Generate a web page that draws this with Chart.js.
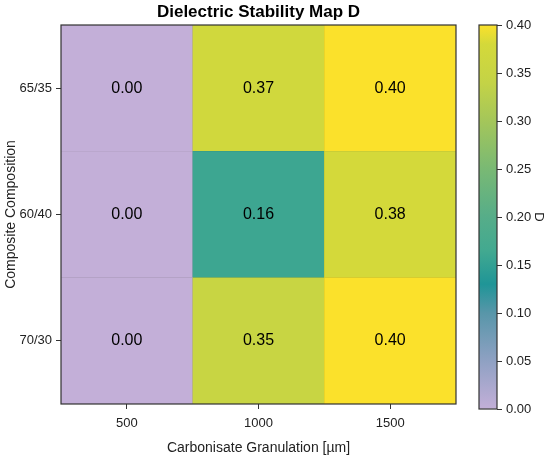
<!DOCTYPE html>
<html>
<head>
<meta charset="utf-8">
<script src="https://cdn.jsdelivr.net/npm/chart.js@4.4.1/dist/chart.umd.min.js"></script>
<style>
  html, body { margin: 0; padding: 0; background: #fff; }
  #wrap { position: relative; width: 550px; height: 457px; }
  #wrap canvas { position: absolute; top: 0; }
  #heat { left: 0; }
  #bar { left: 470px; }
</style>
</head>
<body>
<div id="wrap">
  <canvas id="heat" width="517" height="457"></canvas>
  <canvas id="bar" width="80" height="457"></canvas>
</div>
<script>
// Data, rows listed from bottom to top
const granulations = ["500", "1000", "1500"];
const compositions = ["70/30", "60/40", "65/35"];
const row7030 = [0.0, 0.35, 0.4];
const row6040 = [0.0, 0.16, 0.38];
const row6535 = [0.0, 0.37, 0.4];
const stability = [row7030, row6040, row6535];
const colorbarMin = 0;
const colorbarMax = 0.4;

// Colour map (value -> colour)
const cmapStops = [
  [0.0, "#c3afd8"],
  [0.05, "#8fa1c3"],
  [0.1, "#5896a9"],
  [0.13, "#1f9597"],
  [0.165, "#42a990"],
  [0.2, "#56ad89"],
  [0.25, "#79b974"],
  [0.3, "#a4c65a"],
  [0.34, "#c4d346"],
  [0.38, "#d4d93a"],
  [0.4, "#fbe12b"],
];

const FONT = "'Liberation Sans', Arial, sans-serif";
Chart.defaults.font.family = FONT;
Chart.defaults.color = "#222";

function hexToRgb(h) {
  const n = parseInt(h.slice(1), 16);
  return [(n >> 16) & 255, (n >> 8) & 255, n & 255];
}

function mapColor(v, shade) {
  let rgb = hexToRgb(cmapStops[cmapStops.length - 1][1]);
  for (let i = 1; i < cmapStops.length; i++) {
    const [v1, c1] = cmapStops[i];
    const [v0, c0] = cmapStops[i - 1];
    if (v <= v1) {
      const t = (v - v0) / (v1 - v0);
      const a = hexToRgb(c0), b = hexToRgb(c1);
      rgb = a.map((x, k) => x + (b[k] - x) * t);
      break;
    }
  }
  return `rgb(${rgb.map((x) => Math.round(x * shade)).join(",")})`;
}

const colorFor = (v) => mapColor(v, 1);
const edgeFor = (v) => mapColor(v, 0.9);

// Heatmap cells as floating bars, one dataset per composition row
const heatDatasets = compositions.map((comp, r) => ({
  label: comp,
  data: granulations.map((g, c) => ({ x: g, y: [r - 0.5, r + 0.5], v: stability[r][c] })),
  backgroundColor: stability[r].map(colorFor),
  borderColor: stability[r].map(edgeFor),
  borderWidth: 0.6,
  borderSkipped: false,
  barPercentage: 1,
  categoryPercentage: 1,
  grouped: false,
}));

const framePlugin = {
  id: "frame",
  afterDatasetsDraw(chart) {
    const { ctx, chartArea: a } = chart;
    ctx.save();
    ctx.strokeStyle = "#333";
    ctx.lineWidth = 1.2;
    ctx.strokeRect(a.left, a.top, a.right - a.left, a.bottom - a.top);
    ctx.restore();
  },
};

const cellLabels = {
  id: "cellLabels",
  afterDatasetsDraw(chart) {
    const { ctx } = chart;
    ctx.save();
    ctx.font = `16px ${FONT}`;
    ctx.fillStyle = "#000";
    ctx.textAlign = "center";
    ctx.textBaseline = "middle";
    chart.data.datasets.forEach((ds, i) => {
      chart.getDatasetMeta(i).data.forEach((el, j) => {
        ctx.fillText(ds.data[j].v.toFixed(2), el.x, (el.y + el.base) / 2);
      });
    });
    ctx.restore();
  },
};

// Title centred over the plot area, like the reference
const plotTitle = {
  id: "plotTitle",
  afterDraw(chart) {
    const { ctx, chartArea: a } = chart;
    ctx.save();
    ctx.font = `bold 17px ${FONT}`;
    ctx.fillStyle = "#000";
    ctx.textAlign = "center";
    ctx.textBaseline = "middle";
    ctx.fillText("Dielectric Stability Map D", (a.left + a.right) / 2, 12.5);
    ctx.restore();
  },
};

new Chart(document.getElementById("heat"), {
  type: "bar",
  data: { labels: granulations, datasets: heatDatasets },
  options: {
    responsive: false,
    animation: false,
    layout: { padding: { left: 0, right: 61, top: 25, bottom: 0 } },
    plugins: {
      legend: { display: false },
      tooltip: { enabled: false },
      title: { display: false },
    },
    scales: {
      x: {
        type: "category",
        grid: { drawOnChartArea: false, offset: false, tickLength: 5, color: "#333" },
        border: { display: false },
        ticks: { font: { size: 13 }, padding: 7 },
        title: {
          display: true,
          text: "Carbonisate Granulation [µm]",
          font: { size: 14 },
          padding: { top: 0, bottom: 0 },
        },
        afterFit(scale) { scale.height = 53; },
      },
      y: {
        type: "linear",
        min: -0.5,
        max: 2.5,
        afterBuildTicks(scale) {
          scale.ticks = compositions.map((c, i) => ({ value: i }));
        },
        ticks: {
          font: { size: 13 },
          padding: 4,
          callback: (v) => compositions[v],
        },
        grid: { drawOnChartArea: false, tickLength: 5, color: "#333" },
        border: { display: false },
        title: {
          display: true,
          text: "Composite Composition",
          font: { size: 14 },
          padding: { top: 3, bottom: 4 },
        },
        afterFit(scale) { scale.width = 61; },
      },
    },
  },
  plugins: [cellLabels, framePlugin, plotTitle],
});

// Colour bar: a single floating bar filled with the colour map
function barGradient(context) {
  const chart = context.chart;
  if (!chart.chartArea) return null;
  const y = chart.scales.y;
  const g = chart.ctx.createLinearGradient(0, y.getPixelForValue(colorbarMin), 0, y.getPixelForValue(colorbarMax));
  cmapStops.forEach(([v, c]) => g.addColorStop((v - colorbarMin) / (colorbarMax - colorbarMin), c));
  return g;
}

new Chart(document.getElementById("bar"), {
  type: "bar",
  data: {
    labels: ["D"],
    datasets: [{
      data: [[colorbarMin, colorbarMax]],
      backgroundColor: barGradient,
      borderWidth: 0,
      barPercentage: 1,
      categoryPercentage: 1,
    }],
  },
  options: {
    responsive: false,
    animation: false,
    layout: { padding: { left: 9, right: 0, top: 25, bottom: 48 } },
    plugins: { legend: { display: false }, tooltip: { enabled: false } },
    scales: {
      x: { display: false },
      y: {
        position: "right",
        min: colorbarMin,
        max: colorbarMax,
        ticks: { stepSize: 0.05, font: { size: 13 }, padding: 4, callback: (v) => v.toFixed(2) },
        grid: { drawOnChartArea: false, tickLength: 5, color: "#333" },
        border: { display: false },
        title: { display: true, text: "D", font: { size: 13 }, padding: { top: 4, bottom: 4 } },
        afterFit(scale) { scale.width = 53; },
      },
    },
  },
  plugins: [framePlugin],
});
</script>
</body>
</html>
